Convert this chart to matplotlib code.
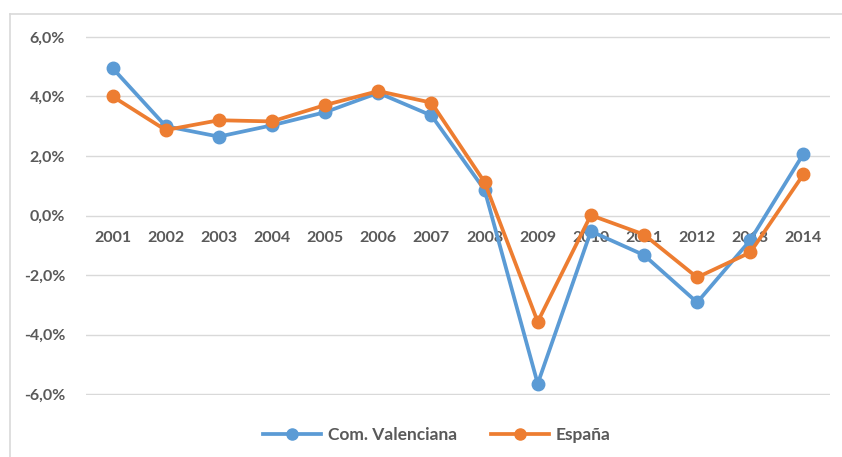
import matplotlib
matplotlib.use("Agg")
import matplotlib.pyplot as plt
from matplotlib.lines import Line2D

years = ["2001", "2002", "2003", "2004", "2005", "2006", "2007",
         "2008", "2009", "2010", "2011", "2012", "2013", "2014"]
com_valenciana = [4.95, 3.0, 2.65, 3.03, 3.47, 4.12, 3.36,
                  0.86, -5.65, -0.53, -1.33, -2.92, -0.83, 2.07]
espana = [4.0, 2.87, 3.2, 3.16, 3.71, 4.18, 3.79,
          1.12, -3.57, 0.01, -0.64, -2.08, -1.24, 1.38]
yticks = [-6, -4, -2, 0, 2, 4, 6]
ytick_labels = ["-6,0%", "-4,0%", "-2,0%", "0,0%", "2,0%", "4,0%", "6,0%"]

BLUE = "#5B9BD5"
ORANGE = "#ED7D31"
TXT = "#595959"
GRID = "#D9D9D9"
FONT = "Lato"

W, H = 842, 457
fig = plt.figure(figsize=(W / 100, H / 100), dpi=100)
fig.patch.set_facecolor("white")

# outer chart frame (top and left edges visible)
fig.add_artist(Line2D([10 / W, 1.0], [1 - 14 / H, 1 - 14 / H], transform=fig.transFigure,
                      color="#D9D9D9", lw=1.2))
fig.add_artist(Line2D([10 / W, 10 / W], [0, 1 - 14 / H], transform=fig.transFigure,
                      color="#D9D9D9", lw=1.2))

left, right = 86 / W, 830 / W
bottom, top = 1 - 395 / H, 1 - 36 / H
ax = fig.add_axes([left, bottom, right - left, top - bottom])

x = list(range(len(years)))
ax.plot(x, com_valenciana, color=BLUE, lw=2.7, marker="o", ms=9,
        label="Com. Valenciana", solid_joinstyle="round", zorder=3)
ax.plot(x, espana, color=ORANGE, lw=2.7, marker="o", ms=9,
        label="España", solid_joinstyle="round", zorder=4)

ax.set_xlim(-0.5, len(years) - 0.5)
ax.set_ylim(-6.03, 6.03)
ax.set_yticks(yticks)
ax.set_yticklabels(ytick_labels)
ax.grid(axis="y", color=GRID, lw=1.0)
ax.set_axisbelow(True)
for s in ax.spines.values():
    s.set_visible(False)

ax.tick_params(axis="y", length=0, pad=15, labelsize=11.5, labelcolor=TXT)
for t in ax.get_yticklabels():
    t.set_fontfamily(FONT)
    t.set_fontweight("bold")

ax.spines["bottom"].set_position(("data", 0))
ax.set_xticks(x)
ax.set_xticklabels(years)
ax.tick_params(axis="x", length=0, pad=11, labelsize=11.5, labelcolor=TXT)
for t in ax.get_xticklabels():
    t.set_fontfamily(FONT)
    t.set_fontweight("bold")
    t.set_zorder(2)

leg = fig.legend(loc="center", bbox_to_anchor=(437 / W, 1 - 435 / H), ncol=2,
                 frameon=False, handlelength=3.3, columnspacing=2.0, handletextpad=0.4,
                 prop={"family": FONT, "weight": "bold", "size": 12.5})
for t in leg.get_texts():
    t.set_color(TXT)
for h in leg.legend_handles:
    h.set_markersize(8)

fig.savefig("out.png", dpi=100, facecolor="white")
